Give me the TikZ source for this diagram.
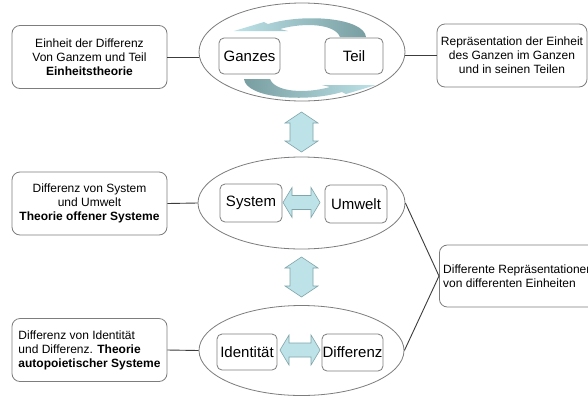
\documentclass[tikz,border=0pt]{standalone}
\usepackage{fontspec}
\setmainfont{Liberation Sans}
\usetikzlibrary{shapes.geometric}
\definecolor{boxgray}{RGB}{125,125,125}
\definecolor{linegray}{RGB}{60,60,60}
\definecolor{afill}{RGB}{189,226,231}
\definecolor{aline}{RGB}{128,165,170}
\definecolor{adark}{RGB}{120,158,162}
\begin{document}
\begin{tikzpicture}[x=1pt,y=-1pt,
  sbox/.style={draw=boxgray, line width=0.8pt, rounded corners=8pt, minimum width=155pt, minimum height=63pt, inner sep=0pt, font=\fontsize{12}{14}\selectfont, align=center},
  lbox/.style={draw=boxgray, line width=0.8pt, rounded corners=5pt, minimum height=36pt, inner sep=0pt, font=\fontsize{15}{18}\selectfont},
  ell/.style={draw=boxgray, ellipse, line width=0.8pt, inner sep=0pt},
  conn/.style={draw=linegray, line width=0.9pt},
  barrow/.style={fill=afill, draw=aline, line width=0.6pt, line join=miter}]
\useasboundingbox (0,0) rectangle (588,397);
\clip (0,0) rectangle (588,397);
\fill[white] (0,0) rectangle (588,397);

% ellipses
\node[ell, minimum width=206pt, minimum height=98pt] (e1) at (302,52) {};
\node[ell, minimum width=207pt, minimum height=92pt] (e2) at (301.5,203) {};
\node[ell, minimum width=205pt, minimum height=90pt] (e3) at (301.5,350.5) {};

% curved arrows in top ellipse
\path[left color=afill, right color=adark]
  (366,37) .. controls (364,18) and (305,13) .. (268,24) -- (264,22) -- (234,31)
  -- (288,31) -- (280,29) .. controls (305,22) and (335,24) .. (340,37) -- cycle;
\path[left color=adark, right color=afill]
  (244,79) .. controls (246,98) and (305,103) .. (342,92) -- (346,94) -- (376,85)
  -- (322,85) -- (330,87) .. controls (305,94) and (275,92) .. (270,79) -- cycle;

% inner boxes
\node[lbox, minimum width=61pt] (ganzes) at (249.5,56) {Ganzes};
\node[lbox, minimum width=58pt] (teil) at (354,56) {Teil};
\node[lbox, minimum width=62pt, minimum height=38pt] (system) at (251,203) {System};
\node[lbox, minimum width=62pt, minimum height=38pt] (umwelt) at (356,204) {Umwelt};
\node[lbox, minimum width=60pt] (ident) at (247,352) {Identität};
\node[lbox, minimum width=61pt, minimum height=37pt] (diff) at (352.5,352.5) {Differenz};

% side boxes
\node[sbox] (lb1) at (89.5,57) {Einheit der Differenz\\Von Ganzem und Teil\\\textbf{Einheitstheorie}};
\node[sbox] (lb2) at (89.5,203.5) {Differenz von System\\und Umwelt\\\textbf{Theorie offener Systeme}};
\node[sbox, align=left] (lb3) at (89.5,350) {Differenz von Identität\\und Differenz. \textbf{Theorie}\\\textbf{autopoietischer Systeme}};
\node[sbox, minimum width=150pt] (rb1) at (512,55.5) {Repräsentation der Einheit\\des Ganzen im Ganzen\\und in seinen Teilen};
\node[sbox, minimum width=171pt, minimum height=62pt, anchor=west] (rb2) at (439,276) {};
\node[anchor=west, inner sep=0pt, font=\fontsize{12}{14}\selectfont, align=left] (rb2t) at (443,276) {Differente Repräsentationen\\von differenten Einheiten};

% connectors
\draw[conn] (lb1.east) -- (lb1.east -| e1.west);
\draw[conn] (e1.east |- rb1.west) -- (rb1.west);
\draw[conn] (lb2.east) -- (e2.west);
\draw[conn] (lb3.east) -- (e3.west);
\draw[conn] (e2.east) -- (rb2.west) -- (e3.east);

% block double arrows
\path[barrow] (301.5,112) -- (318,123) -- (313,123) -- (313,141) -- (318,141) -- (301.5,152)
  -- (285,141) -- (290,141) -- (290,123) -- (285,123) -- cycle;
\path[barrow] (301.5,257) -- (318,268) -- (313,268) -- (313,286) -- (318,286) -- (301.5,297)
  -- (285,286) -- (290,286) -- (290,268) -- (285,268) -- cycle;
\path[barrow] (283,202.5) -- (292,187.5) -- (292,195.5) -- (311,195.5) -- (311,187.5) -- (320,202.5)
  -- (311,217.5) -- (311,209.5) -- (292,209.5) -- (292,217.5) -- cycle;
\path[barrow] (280,350) -- (289,335) -- (289,343) -- (311,343) -- (311,335) -- (320,350)
  -- (311,365) -- (311,357) -- (289,357) -- (289,365) -- cycle;
\end{tikzpicture}
\end{document}
